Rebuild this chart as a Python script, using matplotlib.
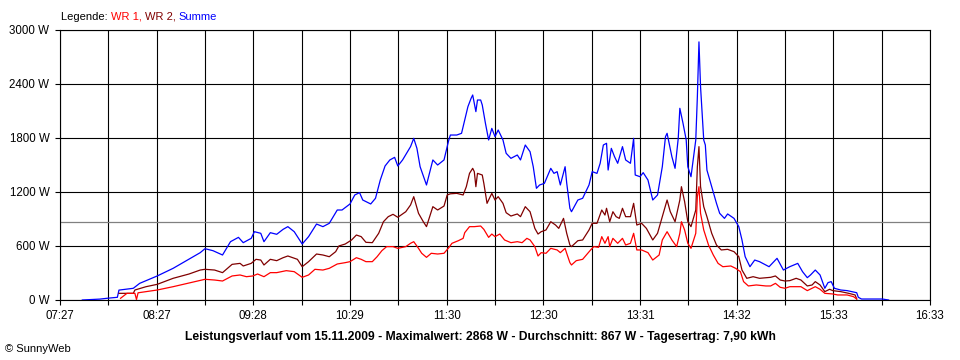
"""
SunnyWeb daily power curve (Leistungsverlauf) for 15.11.2009 - two inverters plus sum.
"""

import matplotlib
matplotlib.use("Agg")
import matplotlib.pyplot as plt
import numpy as np

plt.rcParams["font.family"] = ["Liberation Sans", "DejaVu Sans"]
plt.rcParams["font.size"] = 8

# x axis in minutes since midnight: 07:27 .. 16:33
T_START, T_END = 447, 993
TICK_LABELS = ["07:27", "08:27", "09:28", "10:29", "11:30",
               "12:30", "13:31", "14:32", "15:33", "16:33"]
Y_TICKS = [0, 600, 1200, 1800, 2400, 3000]
AVERAGE_W = 867

# Summe (blue)
sum_t = [461, 472, 477, 483, 484, 493, 497, 508, 518, 527, 535, 538, 543, 549, 554,
         559, 562, 567, 569, 573, 575, 579, 583, 587, 590, 594, 599, 603, 608, 612,
         616, 621, 624, 629, 632, 635, 637, 642, 645, 648, 651, 654, 657, 659, 662,
         667, 669, 671, 673, 677, 679, 681, 684, 688, 691, 692, 696, 699, 701, 703,
         705, 706, 708, 709, 711, 712, 714, 716, 718, 720, 722, 725, 727, 730, 734,
         736, 739, 742, 744, 746, 748, 751, 755, 757, 759, 761, 764, 765, 767, 768,
         772, 775, 779, 781, 784, 786, 788, 790, 791, 793, 795, 797, 800, 802, 805,
         807, 808, 811, 813, 816, 819, 822, 825, 827, 828, 831, 833, 835, 836, 838,
         840, 841, 843, 846, 847, 848, 849, 851, 852, 853, 856, 859, 861, 864, 866,
         870, 873, 875, 877, 880, 883, 886, 892, 897, 901, 905, 910, 913, 916, 918,
         921, 924, 927, 929, 931, 933, 937, 941, 947, 948, 950, 963, 967]
sum_w = [0, 10, 20, 30, 110, 130, 185, 267, 352, 444, 526, 570, 548, 500, 648,
         696, 637, 685, 759, 741, 648, 748, 730, 785, 815, 759, 622, 704, 844, 815,
         852, 1000, 1000, 1067, 1167, 1193, 1111, 1067, 1130, 1333, 1489, 1556, 1585, 1489, 1556,
         1704, 1796, 1685, 1481, 1278, 1415, 1556, 1500, 1556, 1778, 1833, 1833, 1852, 2000, 2148,
         2241, 2278, 2093, 2222, 2222, 2167, 1963, 1778, 1907, 1815, 1889, 1778, 1630, 1574, 1611,
         1556, 1722, 1648, 1481, 1241, 1278, 1296, 1463, 1407, 1426, 1278, 1481, 1300, 1019, 981,
         1111, 1130, 1278, 1426, 1407, 1519, 1722, 1741, 1444, 1685, 1593, 1519, 1704, 1556, 1519,
         1796, 1389, 1370, 1415, 1333, 1111, 1167, 1481, 1815, 1852, 1593, 1463, 1796, 2130, 1963,
         1778, 1481, 1370, 1778, 2259, 2868, 2370, 1778, 1722, 1444, 1259, 1074, 963, 907, 956,
         907, 815, 667, 481, 370, 444, 426, 370, 463, 333, 370, 407, 315, 248, 278,
         333, 278, 130, 193, 204, 130, 111, 104, 81, 30, 11, 11, 0]

# WR 2 (dark red)
wr2_t = [484, 493, 494, 501, 508, 518, 528, 535, 538, 544, 549, 555, 560, 562, 567,
         570, 573, 575, 579, 583, 587, 590, 596, 599, 603, 608, 612, 616, 620, 622,
         626, 630, 633, 636, 639, 643, 647, 650, 653, 656, 659, 664, 667, 669, 672,
         675, 677, 679, 681, 684, 688, 690, 692, 696, 700, 702, 704, 706, 707, 708,
         709, 712, 713, 715, 718, 720, 722, 725, 727, 730, 734, 736, 739, 742, 745,
         747, 749, 752, 755, 758, 760, 763, 765, 767, 768, 772, 775, 779, 781, 784,
         787, 789, 790, 792, 794, 796, 798, 800, 802, 805, 807, 809, 812, 815, 819,
         822, 825, 828, 830, 833, 836, 837, 839, 841, 843, 846, 847, 848, 849, 851,
         853, 856, 859, 862, 866, 870, 873, 875, 878, 882, 886, 893, 896, 899, 902,
         905, 909, 912, 916, 919, 921, 924, 927, 930, 932, 937, 942, 946, 947]
wr2_w = [74, 74, 111, 148, 174, 241, 289, 333, 341, 333, 304, 396, 407, 378, 407,
         452, 444, 389, 452, 437, 470, 489, 452, 370, 426, 511, 500, 481, 537, 600,
         622, 667, 722, 704, 641, 637, 741, 870, 926, 952, 919, 981, 1056, 1148, 963,
         870, 815, 926, 1037, 1000, 1044, 1167, 1180, 1185, 1167, 1259, 1407, 1463, 1426, 1259,
         1407, 1389, 1296, 1074, 1185, 1111, 1148, 1074, 970, 933, 956, 926, 1037, 981, 796,
         733, 759, 778, 870, 833, 796, 907, 741, 611, 593, 659, 667, 778, 852, 852,
         1000, 944, 1019, 870, 981, 926, 907, 1019, 926, 926, 1074, 833, 852, 796, 667,
         741, 926, 1111, 981, 870, 1111, 1259, 1093, 870, 815, 1000, 1481, 1704, 1259, 1037,
         926, 741, 611, 556, 563, 537, 481, 333, 241, 259, 241, 252, 267, 222, 211,
         215, 241, 222, 156, 167, 204, 167, 93, 119, 104, 93, 74, 56, 11]

# WR 1 (red)
wr1_t = [485, 489, 494, 495, 496, 501, 508, 518, 529, 538, 544, 549, 555, 560, 564,
         568, 571, 575, 579, 583, 589, 594, 599, 603, 607, 612, 616, 621, 626, 629,
         633, 636, 639, 643, 646, 649, 652, 656, 659, 664, 667, 669, 672, 674, 677,
         680, 684, 688, 691, 693, 697, 700, 701, 704, 707, 711, 713, 716, 718, 720,
         723, 726, 730, 734, 737, 740, 742, 745, 747, 749, 752, 755, 759, 761, 764,
         765, 767, 768, 771, 775, 780, 782, 785, 787, 789, 791, 792, 794, 797, 800,
         802, 805, 807, 809, 812, 816, 819, 823, 825, 828, 831, 834, 836, 837, 839,
         841, 843, 846, 847, 848, 849, 851, 854, 857, 860, 863, 868, 871, 874, 876,
         879, 884, 890, 893, 896, 899, 902, 905, 912, 916, 921, 924, 927, 932, 935,
         941, 945, 947]
wr1_w = [19, 74, 74, 5, 80, 93, 111, 148, 193, 230, 222, 211, 267, 278, 259,
         267, 289, 259, 304, 304, 326, 315, 252, 278, 341, 333, 352, 400, 415, 426,
         470, 452, 426, 426, 481, 548, 593, 593, 574, 593, 630, 648, 574, 519, 474,
         519, 511, 519, 582, 630, 659, 685, 748, 815, 815, 822, 785, 696, 733, 704,
         733, 667, 637, 648, 637, 685, 667, 593, 489, 526, 519, 574, 556, 526, 574,
         519, 415, 389, 437, 452, 556, 593, 585, 704, 630, 704, 593, 685, 630, 685,
         611, 630, 741, 556, 556, 526, 444, 500, 667, 759, 667, 593, 741, 870, 778,
         630, 574, 741, 1148, 1259, 963, 778, 611, 500, 407, 370, 378, 352, 315, 204,
         156, 167, 156, 156, 185, 141, 130, 148, 148, 104, 148, 119, 74, 67, 56,
         56, 37, 11]

RED = "#ff0000"
DARK_RED = "#800000"
BLUE = "#0000ff"


def main():
    fig = plt.figure(figsize=(9.6, 3.6), dpi=100)
    ax = fig.add_axes([60 / 960, 1 - 300 / 360, 870 / 960, 270 / 360])

    ax.plot(sum_t, sum_w, color=BLUE, linewidth=0.9, zorder=3)
    ax.plot(wr2_t, wr2_w, color=DARK_RED, linewidth=0.9, zorder=3)
    ax.plot(wr1_t, wr1_w, color=RED, linewidth=0.9, zorder=3)
    ax.axhline(AVERAGE_W, color="#808080", linewidth=0.9, zorder=2)

    grid_x = np.linspace(T_START, T_END, 19)
    ax.set_xlim(T_START, T_END)
    ax.set_ylim(0, 3000)
    ax.set_xticks(grid_x[::2])
    ax.set_xticklabels(TICK_LABELS)
    ax.set_xticks(grid_x[1::2], minor=True)
    ax.set_yticks(Y_TICKS)
    ax.set_yticklabels([f"{v} W" for v in Y_TICKS])

    ax.set_axisbelow(True)
    ax.grid(True, which="both", color="black", linewidth=0.8)
    ax.tick_params(which="both", direction="out", length=3.6, width=0.8,
                   colors="black", labelsize=8.3)
    ax.tick_params(axis="x", pad=3.5)
    ax.tick_params(axis="y", pad=4)
    for s in ax.spines.values():
        s.set_linewidth(0.8)

    # multi-colour legend line
    t = fig.text(61 / 960, 1 - 16.5 / 360, "Legende: ", va="center", color="black")
    for part, col in [("WR 1, ", RED), ("WR 2, ", DARK_RED), ("Summe", BLUE)]:
        t = ax.annotate(part, xy=(1, 0), xycoords=t, va="bottom", ha="left",
                        color=col, fontsize=8, annotation_clip=False)

    fig.text(0.5, 1 - 337 / 360,
             "Leistungsverlauf vom 15.11.2009 - Maximalwert: 2868 W - "
             "Durchschnitt: 867 W - Tagesertrag: 7,90 kWh",
             ha="center", va="center", fontweight="bold", fontsize=8.75)
    fig.text(5 / 960, 1 - 349 / 360, "© SunnyWeb", va="center")

    fig.savefig("out.png", dpi=100, facecolor="white")
    plt.close(fig)


main()
